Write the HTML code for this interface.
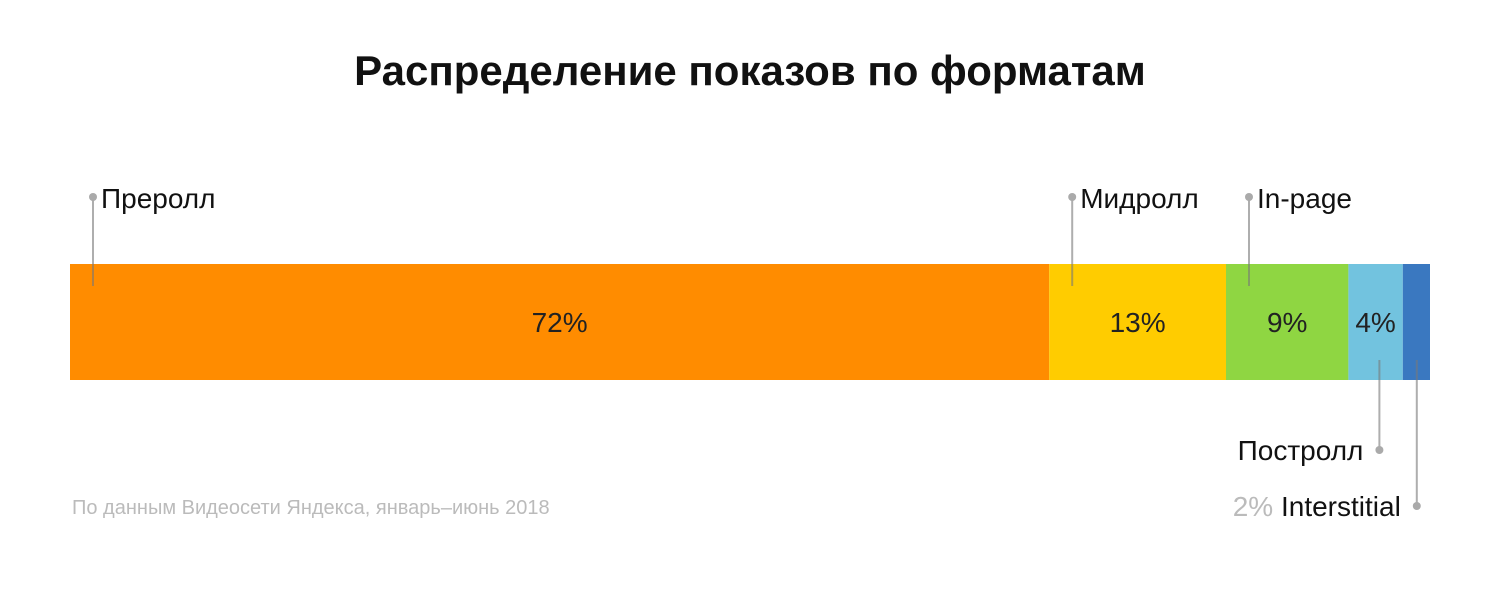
<!DOCTYPE html>
<html><head><meta charset="utf-8"><style>
html,body{margin:0;padding:0;background:#fff;}
svg{display:block;font-family:"Liberation Sans","DejaVu Sans",sans-serif;}
</style></head><body>
<svg id="chart" width="1500" height="602">
<text x="750" y="85" text-anchor="middle" font-size="42" font-weight="bold" fill="#111">Распределение показов по форматам</text>
<text x="72" y="514" font-size="20" fill="#bbb">По данным Видеосети Яндекса, январь–июнь 2018</text>
<g id="bars"></g>
</svg>
<script>
const categories = ["Преролл","Мидролл","In-page","Постролл","Interstitial"];
const values = [72,13,9,4,2];
const colors = ["#ff8c00","#ffcc00","#8fd642","#72c3df","#3a78c0"];
const showInside = [true,true,true,true,false];
const labelBelow = [false,false,false,true,true];
const ns="http://www.w3.org/2000/svg";
const g=document.getElementById('bars');
const x0=70,x1=1430,y0=264,h=116;
const total=values.reduce((a,b)=>a+b,0);
const xs=v=>x0+(x1-x0)*v/total;
function mk(t,a){const e=document.createElementNS(ns,t);for(const k in a)e.setAttribute(k,a[k]);g.appendChild(e);return e;}
let cum=0;
values.forEach((v,i)=>{
  const xa=xs(cum),xb=xs(cum+v);cum+=v;
  const r=mk('rect',{x:xa,y:y0,width:xb-xa,height:h,fill:colors[i]});
  
  
  if(showInside[i]){
    const t=mk('text',{x:(xa+xb)/2,y:y0+h/2+10,'text-anchor':'middle','font-size':28,fill:'#222'});
    t.textContent=v+'%';
    
    
  }
  let lx;
  if(!labelBelow[i]){
    lx=xa+23;
    mk('line',{x1:lx,y1:197,x2:lx,y2:286,stroke:'rgba(120,120,120,0.6)','stroke-width':2});
    mk('circle',{cx:lx,cy:197,r:4,fill:'#aaa'});
    const t=mk('text',{x:lx+8,y:208,'font-size':28,fill:'#111'});
    t.textContent=categories[i];
    
    
  } else {
    lx=i===3?xa+31:xa+14;
    const yd=i===3?450:506;
    mk('line',{x1:lx,y1:360,x2:lx,y2:yd,stroke:'rgba(120,120,120,0.6)','stroke-width':2});
    mk('circle',{cx:lx,cy:yd,r:4,fill:'#aaa'});
    const t=mk('text',{x:lx-16,y:yd+10,'text-anchor':'end','font-size':28,fill:'#111'});
    if(!showInside[i]){
      const s=document.createElementNS(ns,'tspan');s.setAttribute('fill','#bbb');s.textContent=v+'% ';t.appendChild(s);
    }
    t.appendChild(document.createTextNode(categories[i]));
    
    
  }
});
</script>
</body></html>
